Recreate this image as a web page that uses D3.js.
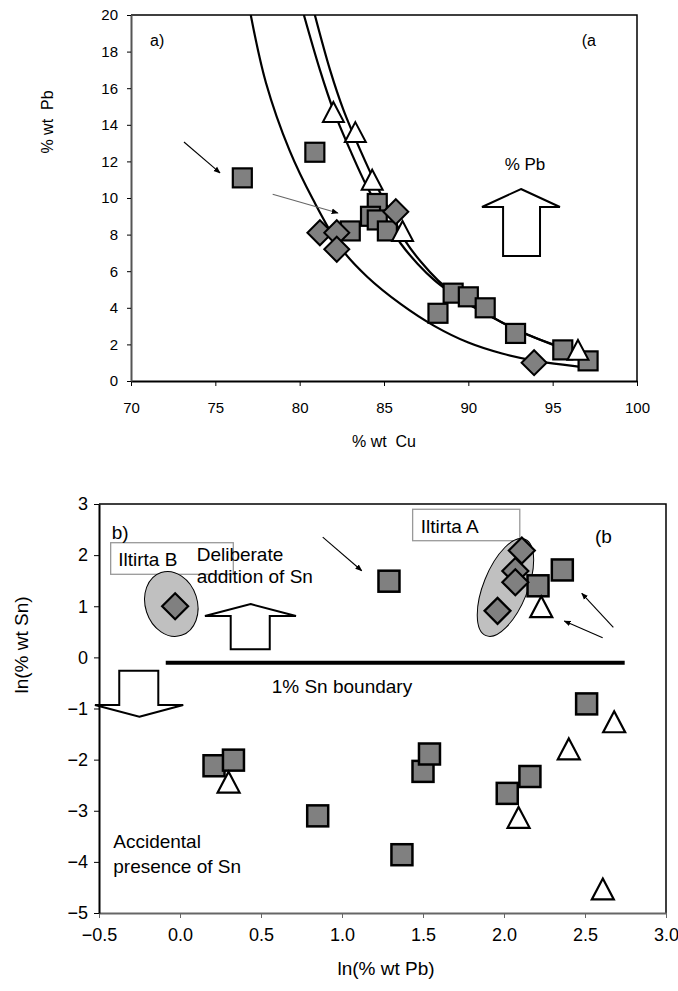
<!DOCTYPE html>
<html>
<head>
<meta charset="utf-8">
<script src="https://cdn.jsdelivr.net/npm/d3@7"></script>
<style>
  body { margin: 0; background: #fff; }
  text { font-family: "Liberation Sans", Arial, sans-serif; fill: #000; white-space: pre; }
</style>
</head>
<body>
<script>
// ---- chart a) : % wt Pb against % wt Cu ----
var cuSquares  = [76.6, 80.9, 83.0, 84.6, 84.2, 84.6, 85.2, 88.2, 89.1, 90.0, 91.0, 92.8, 95.6, 97.1];
var pbSquares  = [11.1, 12.5, 8.2, 9.7, 9.0, 8.8, 8.2, 3.7, 4.8, 4.6, 4.0, 2.6, 1.7, 1.1];
var cuDiamonds = [81.2, 82.2, 82.2, 85.7, 93.9];
var pbDiamonds = [8.1, 8.1, 7.2, 9.25, 1.0];
var cuTriangles = [82.0, 83.3, 84.3, 86.1, 96.5];
var pbTriangles = [14.7, 13.6, 11.0, 8.2, 1.7];

// trend lines
var lowCu = [77.1, 78.0, 79.4, 80.8, 82.5, 84.0, 86.0, 88.0, 90.0, 92.0, 94.0, 96.6];
var lowPb = [20, 16.3, 12.6, 9.9, 7.2, 5.7, 4.2, 3.0, 2.1, 1.5, 1.1, 0.78];
var midCu = [80.25, 81.2, 82.0, 83.0, 84.0, 85.0, 86.0, 87.0, 88.0, 89.0, 90.0, 91.0, 92.0, 93.0, 94.0, 95.5];
var midPb = [20, 17, 14.8, 12.6, 10.6, 9.0, 7.5, 6.4, 5.5, 4.8, 4.2, 3.7, 3.2, 2.75, 2.35, 1.8];
var upCu = [80.9, 81.8, 82.6, 83.6, 84.6, 85.5, 86.3, 87.2, 88.2, 89.1, 90.0, 91.0, 92.0, 93.0, 94.0, 95.5];
var upPb = [20, 17, 14.8, 12.6, 10.6, 9.0, 7.6, 6.5, 5.5, 4.8, 4.25, 3.7, 3.2, 2.75, 2.35, 1.85];

var cuTicks = [70, 75, 80, 85, 90, 95, 100];
var pbTicks = [0, 2, 4, 6, 8, 10, 12, 14, 16, 18, 20];

// ---- chart b) : ln(% wt Sn) against ln(% wt Pb) ----
var lnPbSquares = [1.29, 2.21, 2.36, 0.21, 0.33, 0.85, 1.37, 1.50, 1.54, 2.02, 2.16, 2.51];
var lnSnSquares = [1.49, 1.40, 1.71, -2.12, -2.01, -3.10, -3.86, -2.23, -1.89, -2.66, -2.33, -0.91];
var lnPbDiamonds = [-0.03, 2.11, 2.07, 2.07, 1.96];
var lnSnDiamonds = [1.0, 2.09, 1.69, 1.47, 0.91];
var lnPbTriangles = [2.23, 0.30, 2.09, 2.40, 2.68, 2.61];
var lnSnTriangles = [0.99, -2.44, -3.13, -1.79, -1.26, -4.53];

var lnPbTicks = [-0.5, 0, 0.5, 1, 1.5, 2, 2.5, 3];
var lnSnTicks = [-5, -4, -3, -2, -1, 0, 1, 2, 3];

var zip = function(xs, ys) { return xs.map(function(v, i) { return [v, ys[i]]; }); };

var svg = d3.select("body").append("svg")
    .attr("width", 678)
    .attr("height", 991);

svg.append("defs").append("marker")
    .attr("id", "head")
    .attr("viewBox", "0 0 10 10")
    .attr("refX", 9).attr("refY", 5)
    .attr("markerWidth", 7).attr("markerHeight", 7)
    .attr("markerUnits", "userSpaceOnUse")
    .attr("orient", "auto")
  .append("path")
    .attr("d", "M0,1L10,5L0,9Z")
    .attr("fill", "#000");

function square(g, pts, x, y, s, sw) {
  g.selectAll(null).data(pts).enter().append("rect")
      .attr("x", function(d) { return x(d[0]) - s / 2; })
      .attr("y", function(d) { return y(d[1]) - s / 2; })
      .attr("width", s).attr("height", s)
      .attr("fill", "#808080").attr("stroke", "#000").attr("stroke-width", sw);
}
function diamond(g, pts, x, y, r, sw) {
  g.selectAll(null).data(pts).enter().append("path")
      .attr("transform", function(d) { return "translate(" + x(d[0]) + "," + y(d[1]) + ")"; })
      .attr("d", "M0," + (-r) + "L" + r + ",0L0," + r + "L" + (-r) + ",0Z")
      .attr("fill", "#808080").attr("stroke", "#000").attr("stroke-width", sw);
}
function triangle(g, pts, x, y, w, sw) {
  var h = w * 0.95;
  g.selectAll(null).data(pts).enter().append("path")
      .attr("transform", function(d) { return "translate(" + x(d[0]) + "," + y(d[1]) + ")"; })
      .attr("d", "M0," + (-h / 2) + "L" + (w / 2) + "," + (h / 2) + "L" + (-w / 2) + "," + (h / 2) + "Z")
      .attr("fill", "#fff").attr("stroke", "#000").attr("stroke-width", sw);
}
function hollowArrow(g, a, x, y) {
  // a: tip, head base, wing left/right, shaft left/right, tail
  var pts = [[a.tipX, a.tip], [a.wingR, a.base], [a.shaftR, a.base], [a.shaftR, a.tail],
             [a.shaftL, a.tail], [a.shaftL, a.base], [a.wingL, a.base]];
  g.append("path")
      .attr("d", "M" + pts.map(function(p) { return x(p[0]) + "," + y(p[1]); }).join("L") + "Z")
      .attr("fill", "#fff").attr("stroke", "#000").attr("stroke-width", 2);
}
function thinArrow(g, a, x, y, col) {
  g.append("line")
      .attr("x1", x(a[0])).attr("y1", y(a[1]))
      .attr("x2", x(a[2])).attr("y2", y(a[3]))
      .attr("stroke", col).attr("stroke-width", 1.1)
      .attr("marker-end", "url(#head)");
}

// ======== chart a) ========
var xA = d3.scaleLinear().domain([70, 100]).range([131, 637]);
var yA = d3.scaleLinear().domain([0, 20]).range([381, 15]);
var ga = svg.append("g");

ga.append("clipPath").attr("id", "clipA").append("rect")
    .attr("x", 131).attr("y", 15).attr("width", 506).attr("height", 366);

// frame
ga.append("path")
    .attr("d", "M" + xA(70) + "," + yA(20) + "H" + xA(100) + "V" + yA(0))
    .attr("fill", "none").attr("stroke", "#000").attr("stroke-width", 1.5);

ga.append("g")
    .attr("transform", "translate(0," + yA(0) + ")")
    .call(d3.axisBottom(xA).tickValues(cuTicks).tickSize(5).tickSizeOuter(0).tickPadding(16))
    .call(function(g) {
      g.select(".domain").attr("stroke", "#000").attr("stroke-width", 2);
      g.selectAll("text").style("font-size", "15px").attr("fill", "#000");
    });
ga.append("g")
    .attr("transform", "translate(" + xA(70) + ",0)")
    .call(d3.axisLeft(yA).tickValues(pbTicks).tickSize(4).tickSizeOuter(0).tickPadding(9))
    .call(function(g) {
      g.select(".domain").attr("stroke", "#555").attr("stroke-width", 2);
      g.selectAll("text").style("font-size", "15px").attr("fill", "#000");
    });

var line = d3.line().x(function(d) { return xA(d[0]); }).y(function(d) { return yA(d[1]); })
    .curve(d3.curveCatmullRom);
[zip(lowCu, lowPb), zip(midCu, midPb), zip(upCu, upPb)].forEach(function(c) {
  ga.append("path").attr("d", line(c)).attr("clip-path", "url(#clipA)")
      .attr("fill", "none").attr("stroke", "#000").attr("stroke-width", 2.2);
});

square(ga, zip(cuSquares, pbSquares), xA, yA, 19, 2.2);
triangle(ga, zip(cuTriangles, pbTriangles), xA, yA, 21, 2);
diamond(ga, zip(cuDiamonds, pbDiamonds), xA, yA, 12.5, 2);

thinArrow(ga, [73.14, 13.06, 75.28, 11.37], xA, yA, "#000");
thinArrow(ga, [78.40, 10.20, 82.27, 9.18], xA, yA, "#666");
hollowArrow(ga, {tipX: 93.12, tip: 10.49, base: 9.51, wingL: 90.81, wingR: 95.43,
                 shaftL: 92.06, shaftR: 94.25, tail: 6.83}, xA, yA);

ga.append("text").attr("x", xA(71.13)).attr("y", yA(18.31)).style("font-size", "16px").text("a)");
ga.append("text").attr("x", xA(96.72)).attr("y", yA(18.31)).style("font-size", "16px").text("(a");
ga.append("text").attr("x", xA(93.36)).attr("y", yA(11.53)).attr("text-anchor", "middle")
    .style("font-size", "17px").text("% Pb");

ga.append("text").attr("x", 384).attr("y", 447).attr("text-anchor", "middle")
    .style("font-size", "16px").text("% wt  Cu");
ga.append("text").attr("transform", "translate(53,122)rotate(-90)").attr("text-anchor", "middle")
    .style("font-size", "16px").text("% wt  Pb");

// ======== chart b) ========
var xB = d3.scaleLinear().domain([-0.5, 3]).range([99, 666]);
var yB = d3.scaleLinear().domain([-5, 3]).range([913, 504]);
var gb = svg.append("g");

gb.append("path")
    .attr("d", "M" + xB(-0.5) + "," + yB(3) + "H" + xB(3) + "V" + yB(-5))
    .attr("fill", "none").attr("stroke", "#000").attr("stroke-width", 1.5);

gb.append("g")
    .attr("transform", "translate(0," + yB(-5) + ")")
    .call(d3.axisBottom(xB).tickValues(lnPbTicks).tickFormat(d3.format(".1f"))
        .tickSize(5).tickSizeOuter(0).tickPadding(10))
    .call(function(g) {
      g.select(".domain").attr("stroke", "#666").attr("stroke-width", 2);
      g.selectAll("line").attr("stroke", "#666");
      g.selectAll("text").style("font-size", "18px").attr("fill", "#000");
    });
gb.append("g")
    .attr("transform", "translate(" + xB(-0.5) + ",0)")
    .call(d3.axisLeft(yB).tickValues(lnSnTicks).tickSize(5).tickSizeOuter(0).tickPadding(6))
    .call(function(g) {
      g.select(".domain").attr("stroke", "#000").attr("stroke-width", 2);
      g.selectAll("text").style("font-size", "18px").attr("fill", "#000");
    });

// label boxes and groupings
var boxes = [
  {x0: -0.428, x1: 0.329, y0: 2.243, y1: 1.625, label: "Iltirta B", lx: -0.381, ly: 1.787},
  {x0: 1.436, x1: 2.0975, y0: 2.897, y1: 2.282, label: "Iltirta A", lx: 1.486, ly: 2.438}
];
boxes.forEach(function(b) {
  gb.append("rect")
      .attr("x", xB(b.x0)).attr("y", yB(b.y0))
      .attr("width", xB(b.x1) - xB(b.x0)).attr("height", yB(b.y1) - yB(b.y0))
      .attr("fill", "#fff").attr("stroke", "#999").attr("stroke-width", 1.3);
  gb.append("text").attr("x", xB(b.lx)).attr("y", yB(b.ly)).style("font-size", "19px").text(b.label);
});

var groups = [
  {cx: -0.0537, cy: 1.045, rx: 26, ry: 33, rot: -18},
  {cx: 2.009, cy: 1.368, rx: 22, ry: 52, rot: 22}
];
groups.forEach(function(e) {
  gb.append("ellipse")
      .attr("transform", "translate(" + xB(e.cx) + "," + yB(e.cy) + ")rotate(" + e.rot + ")")
      .attr("rx", e.rx).attr("ry", e.ry)
      .attr("fill", "#c0c0c0").attr("stroke", "#000").attr("stroke-width", 1);
});

// 1% Sn boundary
gb.append("line")
    .attr("x1", xB(-0.088)).attr("x2", xB(2.745))
    .attr("y1", yB(-0.104)).attr("y2", yB(-0.104))
    .attr("stroke", "#000").attr("stroke-width", 4);

hollowArrow(gb, {tipX: 0.436, tip: 1.043, base: 0.808, wingL: 0.154, wingR: 0.716,
                 shaftL: 0.313, shaftR: 0.554, tail: 0.158}, xB, yB);
hollowArrow(gb, {tipX: -0.251, tip: -1.161, base: -0.932, wingL: -0.525, wingR: 0.020,
                 shaftL: -0.375, shaftR: -0.134, tail: -0.260}, xB, yB);

thinArrow(gb, [0.881, 2.353, 1.122, 1.695], xB, yB, "#000");
thinArrow(gb, [2.675, 0.589, 2.48, 1.254], xB, yB, "#000");
thinArrow(gb, [2.609, 0.386, 2.372, 0.712], xB, yB, "#000");

square(gb, zip(lnPbSquares, lnSnSquares), xB, yB, 21, 2.5);
triangle(gb, zip(lnPbTriangles, lnSnTriangles), xB, yB, 22, 2.2);
diamond(gb, zip(lnPbDiamonds, lnSnDiamonds), xB, yB, 13, 2.2);

var notes = [
  {x: -0.4216, y: 2.31, t: "b)"},
  {x: 2.562, y: 2.237, t: "(b"},
  {x: 0.103, y: 1.891, t: "Deliberate"},
  {x: 0.103, y: 1.461, t: "addition of Sn"},
  {x: 0.566, y: -0.69, t: "1% Sn boundary"},
  {x: -0.412, y: -3.723, t: "Accidental"},
  {x: -0.412, y: -4.208, t: "presence of Sn"}
];
gb.selectAll(null).data(notes).enter().append("text")
    .attr("x", function(d) { return xB(d.x); })
    .attr("y", function(d) { return yB(d.y); })
    .style("font-size", "19px")
    .text(function(d) { return d.t; });

gb.append("text").attr("x", 386).attr("y", 975).attr("text-anchor", "middle")
    .style("font-size", "19px").text("ln(% wt Pb)");
gb.append("text").attr("transform", "translate(28,645)rotate(-90)").attr("text-anchor", "middle")
    .style("font-size", "19px").text("ln(% wt Sn)");
</script>
</body>
</html>
